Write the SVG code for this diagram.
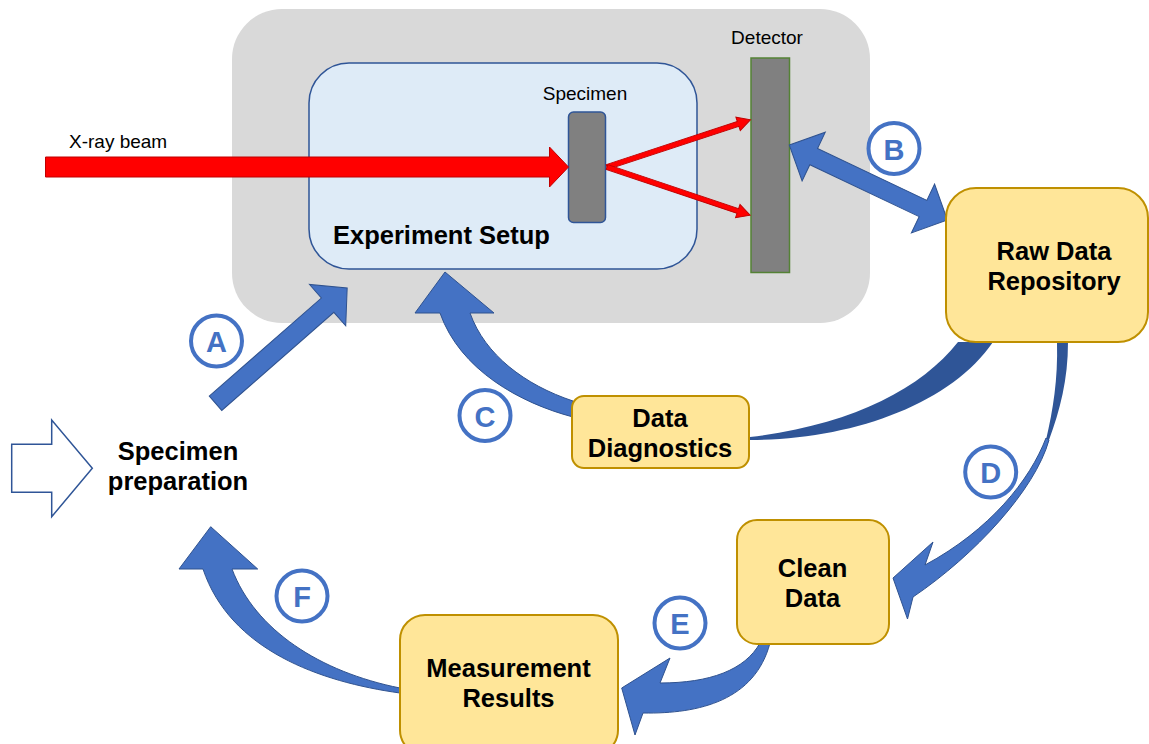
<svg xmlns="http://www.w3.org/2000/svg" width="1149" height="744" viewBox="0 0 1149 744">
<style>
.lbl{font-family:"Liberation Sans",Arial,sans-serif;font-size:19px;fill:#000}
.bold{font-family:"Liberation Sans",Arial,sans-serif;font-weight:bold;font-size:25.5px;fill:#000;text-anchor:middle}
.yellow{fill:#FFE699;stroke:#BF9000;stroke-width:2}
.blue{fill:#4472C4;stroke:#2F528F;stroke-width:1}
.dark{fill:#2F5597;stroke:none}
.red{fill:#FF0000;stroke:#C00000;stroke-width:1}
.badge circle{fill:none;stroke:#4472C4;stroke-width:4}
.badge text{font-family:"Liberation Sans",Arial,sans-serif;font-weight:bold;font-size:29px;fill:#4472C4;text-anchor:middle}
</style>
<rect width="1149" height="744" fill="#FFFFFF"/>

<g id="experiment">
  <rect x="232" y="9" width="638" height="314" rx="50" fill="#D9D9D9"/>
  <rect x="309" y="63" width="388" height="206" rx="40" fill="#DEEBF7" stroke="#2F5597" stroke-width="1.5"/>
  <text x="333" y="244" class="bold" style="text-anchor:start">Experiment Setup</text>
</g>

<g id="specimen">
  <rect x="568.5" y="112" width="37" height="110.5" rx="5" fill="#808080" stroke="#2F5597" stroke-width="1.5"/>
  <text x="585" y="100" class="lbl" text-anchor="middle">Specimen</text>
</g>

<g id="detector">
  <rect x="751" y="58" width="38.5" height="214.5" fill="#808080" stroke="#548235" stroke-width="1.5"/>
  <text x="767" y="44" class="lbl" text-anchor="middle">Detector</text>
</g>

<g id="xray-label">
  <text x="69" y="148" class="lbl">X-ray beam</text>
</g>

<g id="connectors">
  <!-- X-ray beam -->
  <polygon class="red" points="45.5,157 549.5,157 549.5,147 568.5,167 549.5,187 549.5,177 45.5,177"/>
  <!-- diffracted rays -->
  <polygon class="red" transform="translate(607,167) rotate(-18.2)" points="0,-2.5 138,-2.5 138,-7 151,0 138,7 138,2.5 0,2.5"/>
  <polygon class="red" transform="translate(607,167) rotate(18.6)" points="0,-2.5 138,-2.5 138,-7 151,0 138,7 138,2.5 0,2.5"/>
  <!-- A -->
  <polygon class="blue" transform="translate(215.5,403.3) rotate(-41.2)" points="0,-9.5 149,-9.5 149,-27.5 175,0 149,27.5 149,9.5 0,9.5"/>
  <!-- B double arrow -->
  <polygon class="blue" transform="translate(789.3,145) rotate(25.4)" points="0,0 27,-27 27,-9 148,-9 148,-27 175,0 148,27 148,9 27,9 27,27"/>
  <!-- back band Raw Data -> Data Diagnostics -->
  <path class="dark" d="M958,342 C920,390 850,425 750,437 L750,440 C850,440 950,405 993,342 Z"/>
  <!-- C -->
  <path class="blue" d="M573,417 C520,403 460,370 440,313 L415,313 L445,272 L494,313 L470,313 C485,355 525,385 573,401 Z"/>
  <!-- D -->
  <path class="dark" d="M1057,342 C1058,380 1053,410 1046,440 L1049,440 C1060,410 1068,380 1068,342 Z"/>
  <path class="blue" d="M1046,438 C1030,480 990,530 925,565 L933,542 L893,578 L907.5,619 L913,597 C975,555 1035,490 1049,440 Z"/>
  <!-- E -->
  <path class="blue" d="M760,643 C745,670 710,683 660,683 L670,658 L621.7,688 L635,735 L643,713 C700,714 755,700 770,643 Z"/>
  <!-- F -->
  <path class="blue" d="M400,693 C320,682 230,650 203,569 L179,569 L210.7,526.7 L257.7,569 L232,569 C255,630 320,672 400,688 Z"/>
</g>

<g id="specimen-preparation">
  <polygon points="11.7,444.3 51.7,444.3 51.7,420 92.3,468.3 51.7,516.7 51.7,492.3 11.7,492.3" fill="#FFFFFF" stroke="#2F5597" stroke-width="1.5"/>
  <text x="178" y="460" class="bold">Specimen</text>
  <text x="178" y="490" class="bold">preparation</text>
</g>

<g id="raw-data">
  <rect x="946" y="188" width="202" height="154" rx="30" class="yellow"/>
  <text x="1054" y="260" class="bold">Raw Data</text>
  <text x="1054" y="290" class="bold">Repository</text>
</g>

<g id="data-diagnostics">
  <rect x="572" y="396" width="177" height="72" rx="12" class="yellow"/>
  <text x="660" y="427" class="bold">Data</text>
  <text x="660" y="457" class="bold">Diagnostics</text>
</g>

<g id="clean-data">
  <rect x="737" y="520" width="152" height="124" rx="20" class="yellow"/>
  <text x="812.5" y="577" class="bold">Clean</text>
  <text x="812.5" y="607" class="bold">Data</text>
</g>

<g id="measurement-results">
  <rect x="400" y="615" width="218" height="140" rx="25" class="yellow"/>
  <text x="508.5" y="677" class="bold">Measurement</text>
  <text x="508.5" y="707" class="bold">Results</text>
</g>

<g id="badge-A" class="badge"><circle cx="216.5" cy="341" r="25.5"/><text x="216.5" y="352">A</text></g>
<g id="badge-B" class="badge"><circle cx="894" cy="148.5" r="25.5"/><text x="894" y="159.5">B</text></g>
<g id="badge-C" class="badge"><circle cx="485" cy="415.5" r="25.5"/><text x="485" y="426.5">C</text></g>
<g id="badge-D" class="badge"><circle cx="990.7" cy="472" r="25.5"/><text x="990.7" y="483">D</text></g>
<g id="badge-E" class="badge"><circle cx="680" cy="623" r="25.5"/><text x="680" y="634">E</text></g>
<g id="badge-F" class="badge"><circle cx="302" cy="596" r="25.5"/><text x="302" y="607">F</text></g>
</svg>
